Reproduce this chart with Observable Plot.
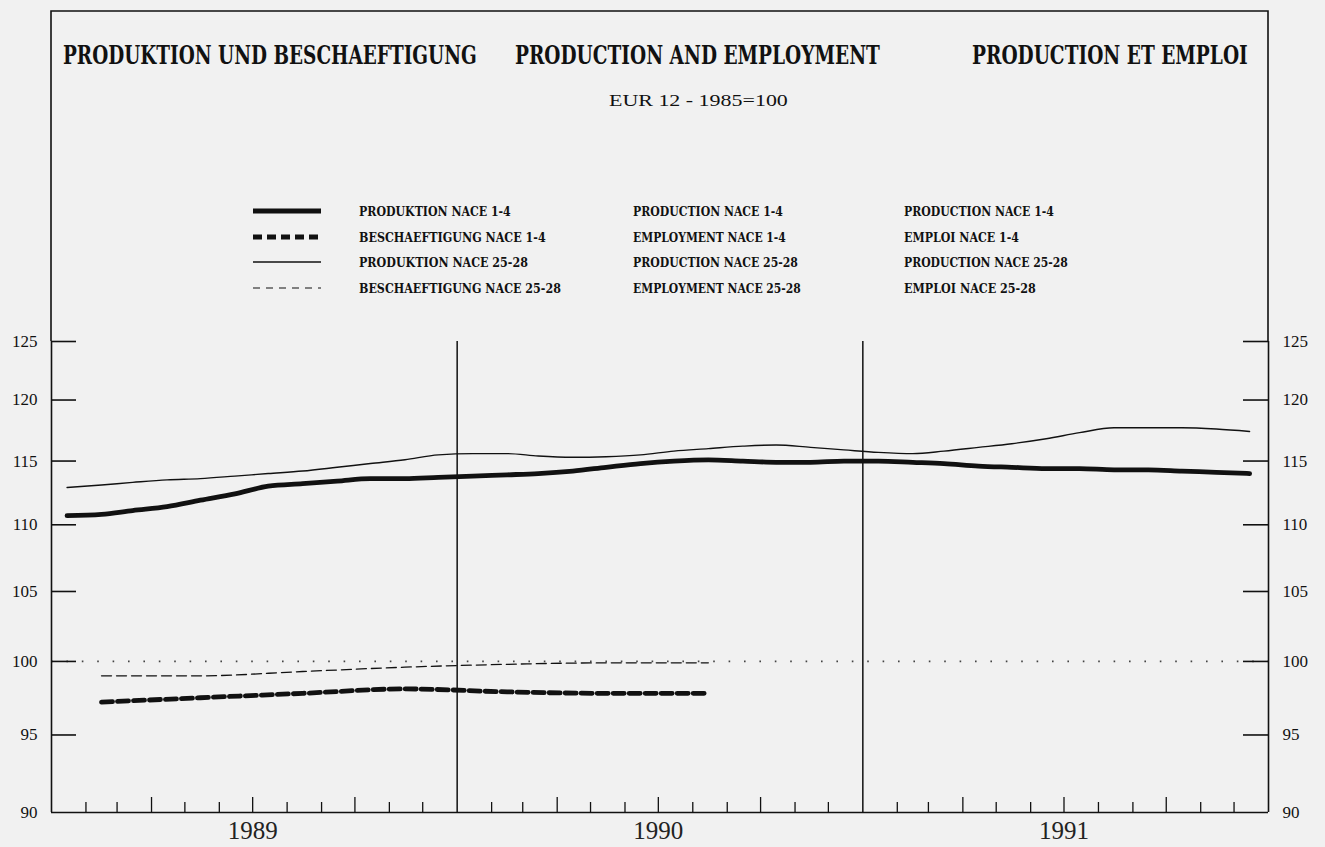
<!DOCTYPE html>
<html>
<head>
<meta charset="utf-8">
<script src="https://cdn.jsdelivr.net/npm/d3@7"></script>
<script src="https://cdn.jsdelivr.net/npm/@observablehq/plot@0.6"></script>
<style>
html, body { margin: 0; padding: 0; background: #f1f1f1; }
#wrap { width: 1325px; height: 847px; position: relative; overflow: hidden; }
</style>
</head>
<body>
<div id="wrap"></div>
<script>
// ---------- DATA ----------
const titles = ["PRODUKTION UND BESCHAEFTIGUNG", "PRODUCTION AND EMPLOYMENT", "PRODUCTION ET EMPLOI"];
const subtitle = "EUR 12 - 1985=100";
const legendDE = ["PRODUKTION NACE 1-4", "BESCHAEFTIGUNG NACE 1-4", "PRODUKTION NACE 25-28", "BESCHAEFTIGUNG NACE 25-28"];
const legendEN = ["PRODUCTION NACE 1-4", "EMPLOYMENT NACE 1-4", "PRODUCTION NACE 25-28", "EMPLOYMENT NACE 25-28"];
const legendFR = ["PRODUCTION NACE 1-4", "EMPLOI NACE 1-4", "PRODUCTION NACE 25-28", "EMPLOI NACE 25-28"];

const months = [
  "1989-01","1989-02","1989-03","1989-04","1989-05","1989-06","1989-07","1989-08","1989-09","1989-10","1989-11","1989-12",
  "1990-01","1990-02","1990-03","1990-04","1990-05","1990-06","1990-07","1990-08","1990-09","1990-10","1990-11","1990-12",
  "1991-01","1991-02","1991-03","1991-04","1991-05","1991-06","1991-07","1991-08","1991-09","1991-10","1991-11","1991-12"
];
// Production NACE 1-4 (thick solid)
const prodNace14 = [
  110.7,110.8,111.1,111.4,111.9,112.4,113.0,113.2,113.4,113.6,113.6,113.7,
  113.8,113.9,114.0,114.2,114.5,114.8,115.0,115.1,115.0,114.9,114.9,115.0,
  115.0,114.9,114.8,114.6,114.5,114.4,114.4,114.3,114.3,114.2,114.1,114.0
];
// Production NACE 25-28 (thin solid)
const prodNace2528 = [
  112.9,113.1,113.3,113.5,113.6,113.8,114.0,114.2,114.5,114.8,115.1,115.5,
  115.6,115.6,115.4,115.3,115.35,115.5,115.8,116.0,116.2,116.3,116.1,115.9,
  115.7,115.6,115.8,116.1,116.4,116.8,117.3,117.7,117.7,117.7,117.6,117.4
];
// Quarterly employment (mid-quarter)
const quarters = ["1989-02-15","1989-05-15","1989-08-15","1989-11-15","1990-02-15","1990-05-15","1990-08-15"];
const empNace14 = [97.2, 97.5, 97.8, 98.1, 97.9, 97.8, 97.8];
const empNace2528 = [99.0, 99.0, 99.3, 99.6, 99.8, 99.9, 99.9];

const yTicks = [90, 95, 100, 105, 110, 115, 120, 125];
const years = [1989, 1990, 1991];
const baseline = [100];

// ---------- LAYOUT ----------
const W = 1325, H = 517, mL = 51, mR = 57, mT = 11, mB = 35;
const plotW = W - mL - mR, plotH = H - mT - mB;
const parse = s => new Date(s + "T00:00:00Z");
const xDomain = [parse("1989-01-01"), parse("1992-01-01")];

// ---------- HEADER (titles + legend) ----------
const head = d3.select("#wrap").append("svg")
  .attr("width", W).attr("height", 330)
  .style("display", "block").style("overflow", "visible");

head.append("path")
  .attr("d", `M${mL},341V11H${W - mR}V341`)
  .attr("fill", "none").attr("stroke", "#111").attr("stroke-width", 1.6);

// place a text so that it spans exactly `len` pixels horizontally (condensed via scaleX)
function fitText(str, x, y, len, font) {
  const g = head.append("g");
  const t = g.append("text")
    .attr("font-family", font.family).attr("font-weight", font.weight || "normal")
    .attr("font-size", font.size).attr("fill", "#111").text(str);
  const natural = t.node().getComputedTextLength();
  g.attr("transform", `translate(${x},${y}) scale(${(len / natural).toFixed(4)},1)`);
}

const titleX = [63, 515, 972], titleLen = [414, 365, 276];
titles.forEach((t, i) => fitText(t, titleX[i], 64, titleLen[i], {family: "DejaVu Serif", weight: "bold", size: 26}));

fitText(subtitle, 609, 106, 179, {family: "Liberation Serif", size: 17});

const rowY = [211, 237, 262, 288];
const swW = [5, 5, 1.3, 1.2];
const swDash = [null, "9,5", null, "7,6"];
rowY.forEach((y, i) => {
  head.append("line").attr("x1", 253).attr("x2", 321).attr("y1", y).attr("y2", y)
    .attr("stroke", "#111").attr("stroke-width", swW[i])
    .attr("stroke-dasharray", swDash[i]);
});
const cols = [
  {x: 359, labels: legendDE, len: [152, 187, 169, 202]},
  {x: 633, labels: legendEN, len: [150, 153, 165, 168]},
  {x: 904, labels: legendFR, len: [150, 115, 164, 132]}
];
cols.forEach(c => {
  c.labels.forEach((t, i) => fitText(t, c.x, rowY[i] + 5, c.len[i], {family: "DejaVu Serif", weight: "bold", size: 13.5}));
});

// ---------- CHART ----------
const prodRows = months.flatMap((m, i) => [
  {date: parse(m + "-15"), value: prodNace14[i], series: "PRODUKTION NACE 1-4"},
  {date: parse(m + "-15"), value: prodNace2528[i], series: "PRODUKTION NACE 25-28"}
]);
const empRows = quarters.flatMap((q, i) => [
  {date: parse(q), value: empNace14[i], series: "BESCHAEFTIGUNG NACE 1-4"},
  {date: parse(q), value: empNace2528[i], series: "BESCHAEFTIGUNG NACE 25-28"}
]);
const sel = (rows, s) => rows.filter(r => r.series === s);

const monthStarts = d3.utcMonth.range(xDomain[0], xDomain[1]).filter(d => d.getUTCMonth() !== 0);
const minorTicks = monthStarts.filter(d => d.getUTCMonth() % 3 !== 0);
const quarterTicks = monthStarts.filter(d => d.getUTCMonth() % 3 === 0);
const yearBounds = years.slice(1).map(y => parse(y + "-01-01"));
const yearMids = years.map(y => ({date: parse(y + "-07-01"), label: String(y)}));

const chart = Plot.plot({
  width: W, height: H,
  marginLeft: mL, marginRight: mR, marginTop: mT, marginBottom: mB,
  style: {background: "transparent", color: "#111", fontFamily: "Liberation Serif", fontSize: "17px", overflow: "visible"},
  x: {type: "utc", domain: xDomain, axis: null},
  y: {type: "log", domain: [90, 125], axis: null},
  marks: [
    Plot.ruleY(baseline, {stroke: "#444", strokeWidth: 1.7, strokeDasharray: "1.6,13.8"}),
    Plot.ruleX(yearBounds, {stroke: "#111", strokeWidth: 1.5}),
    Plot.ruleX(xDomain, {stroke: "#111", strokeWidth: 1.6}),
    Plot.ruleY([90], {stroke: "#111", strokeWidth: 1.6}),
    Plot.tickY(yTicks.slice(1), {y: d => d, insetRight: plotW - 25, stroke: "#111", strokeWidth: 1.6}),
    Plot.tickY(yTicks.slice(1), {y: d => d, insetLeft: plotW - 25, stroke: "#111", strokeWidth: 1.6}),
    Plot.tickX(minorTicks, {x: d => d, insetTop: plotH - 10, stroke: "#111", strokeWidth: 1.3}),
    Plot.tickX(quarterTicks, {x: d => d, insetTop: plotH - 15, stroke: "#111", strokeWidth: 1.3}),
    Plot.axisY(yTicks, {anchor: "left", tickSize: 0, tickPadding: 14, tickFormat: d => String(d), label: null, fontSize: 17}),
    Plot.axisY(yTicks, {anchor: "right", tickSize: 0, tickPadding: 14, tickFormat: d => String(d), label: null, fontSize: 17}),
    Plot.text(yearMids, {x: "date", text: "label", frameAnchor: "bottom", lineAnchor: "top", dy: 9, fontSize: 25, fill: "#222"}),
    Plot.line(sel(prodRows, "PRODUKTION NACE 25-28"), {x: "date", y: "value", curve: "monotone-x", stroke: "#111", strokeWidth: 1.4}),
    Plot.line(sel(prodRows, "PRODUKTION NACE 1-4"), {x: "date", y: "value", curve: "monotone-x", stroke: "#111", strokeWidth: 4.8}),
    Plot.line(sel(empRows, "BESCHAEFTIGUNG NACE 25-28"), {x: "date", y: "value", curve: "monotone-x", stroke: "#111", strokeWidth: 1.3, strokeDasharray: "10,5"}),
    Plot.line(sel(empRows, "BESCHAEFTIGUNG NACE 1-4"), {x: "date", y: "value", curve: "monotone-x", stroke: "#111", strokeWidth: 4.8, strokeDasharray: "11,5"})
  ]
});
chart.style.display = "block";
document.getElementById("wrap").appendChild(chart);
</script>
</body>
</html>
